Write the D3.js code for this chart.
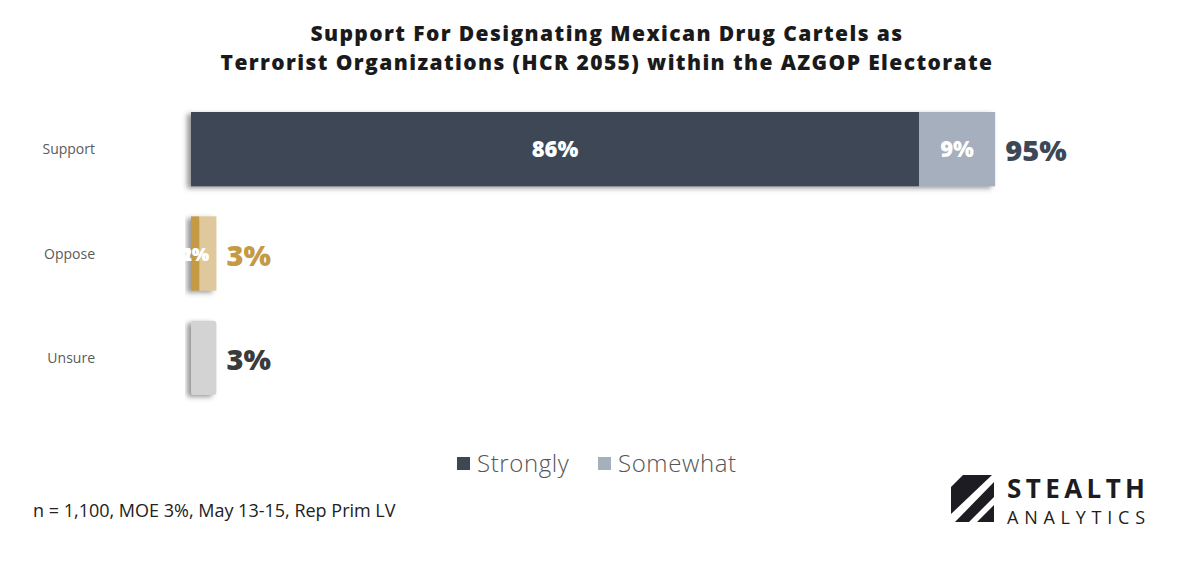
<!DOCTYPE html>
<html>
<head>
<meta charset="utf-8">
<script src="https://cdn.jsdelivr.net/npm/d3@7"></script>
<style>
  body { margin:0; background:#fff; }
  svg text { font-family: "Open Sans", Lato, sans-serif; }
</style>
</head>
<body>
<svg id="chart" width="1200" height="570"></svg>
<script>
// data
var categories = ["Support", "Oppose", "Unsure"];
var strongly   = [86, 1, 0];
var somewhat   = [9, 2, 0];
var unsure     = [0, 0, 3];
var totals     = [95, 3, 3];
var titleLines = ["Support For Designating Mexican Drug Cartels as",
                  "Terrorist Organizations (HCR 2055) within the AZGOP Electorate"];
var legendKeys = ["Strongly", "Somewhat"];
var footnote   = "n = 1,100, MOE 3%, May 13-15, Rep Prim LV";

// colours per row : [strong, somewhat]
var rowCols   = [["#3d4756", "#a5afbd"], ["#c49a45", "#dfc99c"], ["#d3d3d3", "#d3d3d3"]];
var totalCols = ["#3d4756", "#c49a45", "#3b3b3b"];

var svg = d3.select("#chart");

var defs = svg.append("defs");
var f = defs.append("filter").attr("id", "shadow")
  .attr("x", "-20%").attr("y", "-20%").attr("width", "140%").attr("height", "140%");
f.append("feDropShadow").attr("dx", -4).attr("dy", 2).attr("stdDeviation", 2.5)
  .attr("flood-color", "#555").attr("flood-opacity", 0.6);

var x = d3.scaleLinear().domain([0, 100]).range([191, 1037.5]);
var y = d3.scaleBand().domain(categories).range([112, 395]).paddingInner(0.288).paddingOuter(0);

// title
svg.append("g").selectAll("text").data(titleLines).enter().append("text")
  .attr("x", 607).attr("y", function(d, i){ return 41 + i * 29; })
  .attr("text-anchor", "middle")
  .attr("font-size", 21).attr("font-weight", 800).attr("fill", "#1a1a1a")
  .attr("letter-spacing", 1.4)
  .text(function(d){ return d; });

// category labels
svg.append("g").selectAll("text").data(categories).enter().append("text")
  .attr("x", 95).attr("y", function(d){ return y(d) + y.bandwidth() / 2 + 5; })
  .attr("text-anchor", "end").attr("font-size", 14).attr("fill", "#5a5a5a")
  .text(function(d){ return d; });

var rows = categories.map(function(c, i){
  return {cat: c, i: i, segs: [
    {k: 0, start: 0, val: strongly[i] + unsure[i]},
    {k: 1, start: strongly[i] + unsure[i], val: somewhat[i]}
  ]};
});

var g = svg.append("g");
var rowG = g.selectAll("g.row").data(rows).enter().append("g").attr("class", "row")
  .attr("filter", "url(#shadow)");

rowG.selectAll("rect").data(function(d){ return d.segs.filter(function(s){ return s.val > 0; })
    .map(function(s){ s.i = d.i; s.cat = d.cat; return s; }); })
  .enter().append("rect")
  .attr("x", function(d){ return x(d.start); })
  .attr("y", function(d){ return y(d.cat); })
  .attr("width", function(d){ return x(d.start + d.val) - x(d.start); })
  .attr("height", y.bandwidth())
  .attr("rx", function(d){ return d.i == 2 ? 3 : 0; })
  .attr("fill", function(d){ return rowCols[d.i][d.k]; });

// inside labels (Support & Oppose only)
var inner = [];
rows.forEach(function(r){
  if (r.i == 2) return;
  r.segs.forEach(function(s){
    var cx = (r.i == 1) ? x(strongly[r.i] / 2) : (x(s.start) + x(s.start + s.val)) / 2;
    inner.push({cat: r.cat, cx: cx, val: s.val, big: r.i == 0});
  });
});
g.selectAll("text.inner").data(inner).enter().append("text").attr("class", "inner")
  .attr("x", function(d){ return d.cx; })
  .attr("y", function(d){ return y(d.cat) + y.bandwidth() / 2 + (d.big ? 8 : 7); })
  .attr("text-anchor", "middle").attr("fill", "#fff").attr("font-weight", 800)
  .attr("font-size", function(d){ return d.big ? 22 : 18; })
  .text(function(d){ return d.val + "%"; });

// totals
g.selectAll("text.total").data(categories).enter().append("text").attr("class", "total")
  .attr("x", function(d, i){ return x(totals[i]) + 10; })
  .attr("y", function(d){ return y(d) + y.bandwidth() / 2 + 12; })
  .attr("font-size", 29).attr("font-weight", 800)
  .attr("fill", function(d, i){ return totalCols[i]; })
  .text(function(d, i){ return totals[i] + "%"; });

// legend
var lg = svg.append("g").selectAll("g").data(legendKeys).enter().append("g")
  .attr("transform", function(d, i){ return "translate(" + (457 + i * 141) + ",457)"; });
lg.append("rect").attr("width", 13).attr("height", 13)
  .attr("fill", function(d, i){ return rowCols[0][i]; });
lg.append("text").attr("x", 20).attr("y", 15).attr("font-size", 24).attr("fill", "#555")
  .attr("font-weight", 300).attr("letter-spacing", 0.6)
  .text(function(d){ return d; });

// footnote
svg.append("text").attr("x", 33).attr("y", 517).attr("font-size", 18).attr("fill", "#222")
  .text(footnote);

// logo
var logo = svg.append("g").attr("transform", "translate(951,475)");
var pieces = [
  [[12, 0], [41, 0], [0, 39], [0, 12]],
  [[43, 7], [43, 22], [18, 47], [4, 47]],
  [[43, 30], [43, 47], [26, 47]]
];
logo.selectAll("path").data(pieces).enter().append("path")
  .attr("d", function(d){ return "M" + d.join("L") + "Z"; })
  .attr("fill", "#1c1c22");
svg.append("text").attr("x", 1007).attr("y", 498).attr("font-size", 26).attr("font-weight", 700)
  .attr("fill", "#1c1c22").attr("textLength", 138).attr("lengthAdjust", "spacing").text("STEALTH");
svg.append("text").attr("x", 1007).attr("y", 524).attr("font-size", 18).attr("font-weight", 400)
  .attr("fill", "#1c1c22").attr("textLength", 138).attr("lengthAdjust", "spacing").text("ANALYTICS");
</script>
</body>
</html>
